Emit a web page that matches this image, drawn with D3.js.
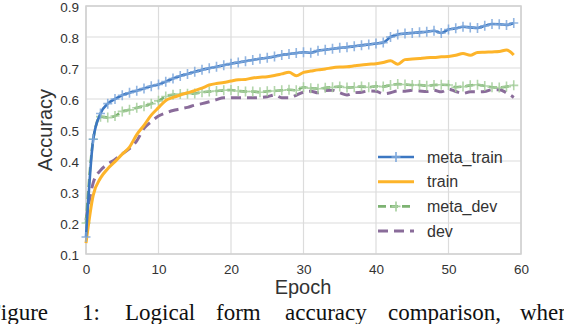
<!DOCTYPE html>
<html>
<head>
<meta charset="utf-8">
<script src="https://d3js.org/d3.v7.min.js"></script>
<style>
  body { margin: 0; background: #fff; }
  svg { display: block; }
</style>
</head>
<body>
<svg id="chart" width="564" height="324"></svg>
<script>
// values, one per epoch (0..59)
var epochs = d3.range(0, 60);
var metaTrain = [0.155, 0.47, 0.553, 0.585, 0.6, 0.612, 0.62, 0.627, 0.634, 0.641,
  0.647, 0.656, 0.666, 0.674, 0.681, 0.688, 0.694, 0.699, 0.704, 0.709,
  0.714, 0.718, 0.722, 0.726, 0.73, 0.733, 0.737, 0.742, 0.745, 0.748,
  0.751, 0.749, 0.756, 0.759, 0.762, 0.765, 0.767, 0.77, 0.773, 0.776,
  0.779, 0.782, 0.8, 0.808, 0.811, 0.813, 0.815, 0.817, 0.82, 0.813,
  0.824, 0.828, 0.833, 0.831, 0.829, 0.836, 0.842, 0.841, 0.839, 0.845];
var train = [0.135, 0.29, 0.345, 0.375, 0.398, 0.422, 0.445, 0.485, 0.515, 0.548,
  0.572, 0.595, 0.605, 0.613, 0.62, 0.627, 0.635, 0.645, 0.65, 0.653,
  0.658, 0.662, 0.663, 0.668, 0.67, 0.672, 0.676, 0.681, 0.686, 0.675,
  0.686, 0.69, 0.694, 0.697, 0.701, 0.703, 0.704, 0.707, 0.71, 0.712,
  0.714, 0.718, 0.723, 0.712, 0.727, 0.729, 0.731, 0.733, 0.734, 0.736,
  0.737, 0.741, 0.747, 0.741, 0.75, 0.751, 0.752, 0.753, 0.758, 0.742];
var metaDev = [0.2, 0.47, 0.543, 0.54, 0.545, 0.56, 0.565, 0.572, 0.577, 0.585,
  0.594, 0.608, 0.614, 0.616, 0.617, 0.618, 0.622, 0.624, 0.626, 0.628,
  0.629, 0.626, 0.624, 0.624, 0.622, 0.625, 0.626, 0.628, 0.63, 0.628,
  0.638, 0.635, 0.633, 0.636, 0.638, 0.64, 0.637, 0.638, 0.64, 0.638,
  0.641, 0.64, 0.645, 0.648, 0.647, 0.645, 0.645, 0.643, 0.645, 0.646,
  0.645, 0.638, 0.64, 0.644, 0.646, 0.642, 0.638, 0.637, 0.64, 0.644];
var dev = [0.21, 0.33, 0.37, 0.39, 0.405, 0.423, 0.44, 0.465, 0.505, 0.527,
  0.545, 0.555, 0.563, 0.568, 0.573, 0.58, 0.585, 0.591, 0.598, 0.604,
  0.604, 0.604, 0.604, 0.604, 0.605, 0.607, 0.613, 0.604, 0.604, 0.612,
  0.622, 0.625, 0.62, 0.627, 0.628, 0.62, 0.613, 0.62, 0.622, 0.626,
  0.625, 0.617, 0.62, 0.626, 0.625, 0.628, 0.626, 0.624, 0.628, 0.623,
  0.632, 0.624, 0.618, 0.623, 0.623, 0.624, 0.63, 0.63, 0.62, 0.605];
var xTicks = [0, 10, 20, 30, 40, 50, 60];
var yTicks = [0.1, 0.2, 0.3, 0.4, 0.5, 0.6, 0.7, 0.8, 0.9];
var seriesNames = ['meta_train', 'train', 'meta_dev', 'dev'];
var captionWords = ['Figure', '1:', 'Logical', 'form', 'accuracy', 'comparison,', 'when'];

var svg = d3.select('#chart');
var x = d3.scaleLinear().domain([0, 60]).range([86, 521]);
var y = d3.scaleLinear().domain([0.1, 0.9]).range([254, 6]);
var sans = 'Liberation Sans, Arial, sans-serif';

// grid
svg.append('g').selectAll('line').data(yTicks).enter().append('line')
    .attr('x1', x(0)).attr('x2', x(60))
    .attr('y1', function (d) { return y(d); }).attr('y2', function (d) { return y(d); })
    .attr('stroke', '#dcdcdc').attr('stroke-width', 1.2);
svg.append('g').selectAll('line').data(xTicks).enter().append('line')
    .attr('x1', function (d) { return x(d); }).attr('x2', function (d) { return x(d); })
    .attr('y1', y(0.1)).attr('y2', y(0.9))
    .attr('stroke', '#dcdcdc').attr('stroke-width', 1.2);
svg.append('rect')
    .attr('x', x(0)).attr('y', y(0.9))
    .attr('width', x(60) - x(0)).attr('height', y(0.1) - y(0.9))
    .attr('fill', 'none').attr('stroke', '#d0d0d0').attr('stroke-width', 1.5);

// axes (labels only, no tick marks)
var xAxis = svg.append('g').attr('transform', 'translate(0,' + y(0.1) + ')')
    .call(d3.axisBottom(x).tickValues(xTicks).tickSize(0).tickPadding(10));
var yAxis = svg.append('g').attr('transform', 'translate(' + x(0) + ',0)')
    .call(d3.axisLeft(y).tickValues(yTicks).tickSize(0).tickPadding(7).tickFormat(d3.format('.1f')));
[xAxis, yAxis].forEach(function (a) {
    a.select('.domain').remove();
    a.selectAll('text').attr('fill', '#333').style('font-family', sans).style('font-size', '13.5px');
});
yAxis.selectAll('text').attr('dy', '0.4em');

svg.append('text')
    .attr('transform', 'translate(52,130) rotate(-90)')
    .attr('text-anchor', 'middle')
    .attr('fill', '#333')
    .style('font-family', sans).style('font-size', '20px')
    .text('Accuracy');
svg.append('text')
    .attr('x', 303).attr('y', 294)
    .attr('text-anchor', 'middle')
    .attr('fill', '#333')
    .style('font-family', sans).style('font-size', '20px')
    .text('Epoch');

var series = [
    { name: seriesNames[0], values: metaTrain, color: '#3c77c2', mark: '#7fa9dc', width: 2.6, dash: null, plus: true },
    { name: seriesNames[1], values: train, color: '#fdb42a', width: 3, dash: null, plus: false },
    { name: seriesNames[2], values: metaDev, color: '#7db372', mark: '#a6cf9d', width: 2.6, dash: '8,4', plus: true },
    { name: seriesNames[3], values: dev, color: '#8a6c9a', width: 3, dash: '10,6', plus: false }
];

var line = d3.line()
    .x(function (d) { return x(d[0]); })
    .y(function (d) { return y(d[1]); })
    .curve(d3.curveMonotoneX);

// draw back-to-front: dev, meta_dev, train, meta_train
series.slice().reverse().forEach(function (s) {
    var pts = epochs.map(function (e, i) { return [e, s.values[i]]; });
    svg.append('path')
        .datum(pts)
        .attr('d', line)
        .attr('fill', 'none')
        .attr('stroke', s.color)
        .attr('stroke-width', s.width)
        .attr('stroke-dasharray', s.dash)
        .attr('stroke-linejoin', 'round');
    if (s.plus) {
        svg.append('g').selectAll('path').data(pts).enter().append('path')
            .attr('d', function (d) {
                var cx = x(d[0]), cy = y(d[1]);
                return 'M' + (cx - 4.5) + ',' + cy + 'H' + (cx + 4.5) +
                    'M' + cx + ',' + (cy - 5) + 'V' + (cy + 5);
            })
            .attr('stroke', s.mark)
            .attr('stroke-width', 1.6)
            .attr('opacity', 0.85);
    }
});

// legend
var legend = svg.append('g');
series.forEach(function (s, i) {
    var ly = 157 + i * 24.7;
    legend.append('line')
        .attr('x1', 378).attr('x2', 414).attr('y1', ly).attr('y2', ly)
        .attr('stroke', s.color).attr('stroke-width', s.width)
        .attr('stroke-dasharray', s.dash);
    if (s.plus) {
        legend.append('path')
            .attr('d', 'M' + 391.5 + ',' + ly + 'H' + 400.5 + 'M396,' + (ly - 5) + 'V' + (ly + 5))
            .attr('stroke', s.mark).attr('stroke-width', 1.6);
    }
    legend.append('text')
        .attr('x', 427).attr('y', ly + 5.5)
        .attr('fill', '#333')
        .style('font-family', sans).style('font-size', '16px')
        .text(s.name);
});

// caption (cut off at the page edges like the source image)
var captionX = [-12, 82, 125, 216, 285, 388, 520];
svg.append('g').selectAll('text').data(captionWords).enter().append('text')
    .attr('x', function (d, i) { return captionX[i]; })
    .attr('y', 320)
    .attr('fill', '#111')
    .style('font-family', 'Liberation Serif, Times New Roman, serif')
    .style('font-size', '23px')
    .text(function (d) { return d; });
</script>
</body>
</html>
